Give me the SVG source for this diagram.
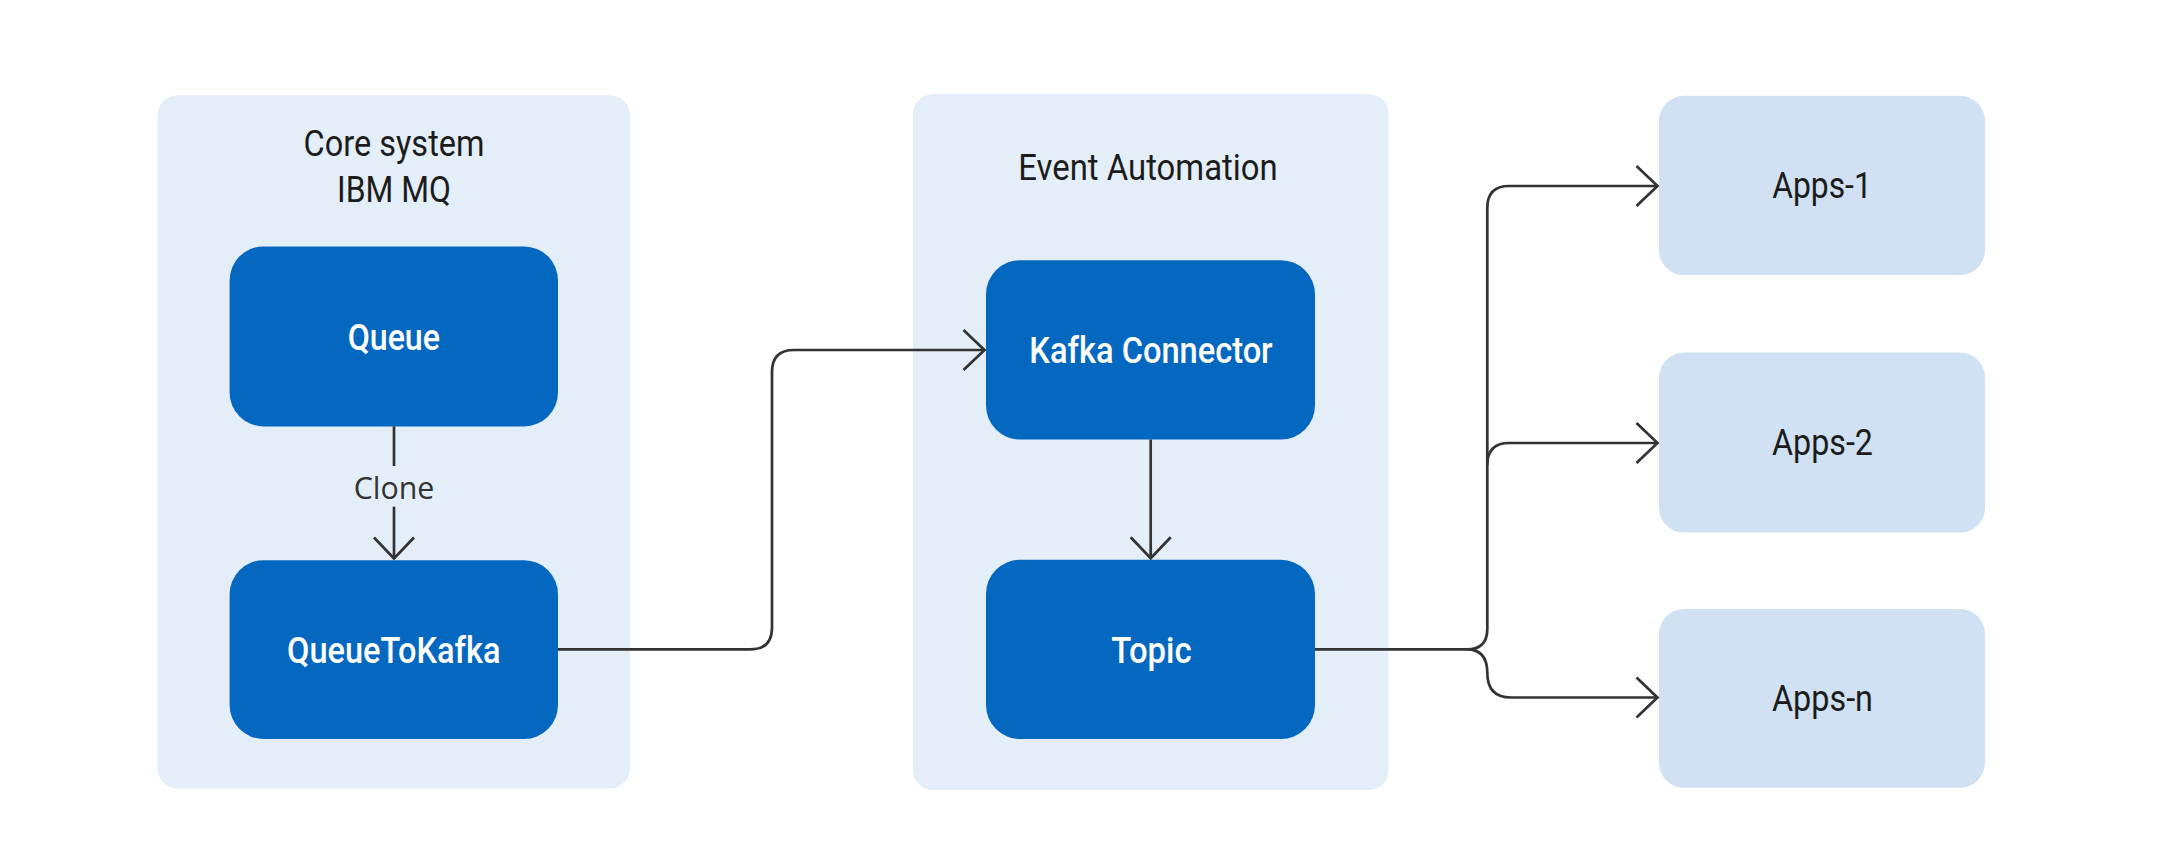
<svg xmlns="http://www.w3.org/2000/svg" width="2163" height="868" viewBox="0 0 2163 868">
<style>
.grp{fill:#E4EEF8}
.node{fill:#0568C0}
.app{fill:#CFE1F2}
.title{font-family:Roboto,"Liberation Sans",sans-serif;font-size:36px;fill:#1c1c1c;text-anchor:middle}
.nlabel{font-family:Roboto,"Liberation Sans",sans-serif;font-size:37px;font-weight:500;fill:#ffffff;text-anchor:middle}
.alabel{font-family:Roboto,"Liberation Sans",sans-serif;font-size:36.5px;fill:#1c1c1c;text-anchor:middle}
.elabel{font-family:"Open Sans","Noto Sans",sans-serif;font-size:31px;fill:#333333;text-anchor:middle}
.edge{fill:none;stroke:#333333;stroke-width:2.7}
</style>
<defs>
<marker id="arr" markerUnits="userSpaceOnUse" markerWidth="30" markerHeight="46" viewBox="-25 -23 29 46" refX="0" refY="0" orient="auto">
<path d="M-21,-20 L0,0 L-21,20" fill="none" stroke="#333333" stroke-width="2.7"/>
</marker>
</defs>
<rect width="2163" height="868" fill="#ffffff"/>
<g id="core-system">
<rect class="grp" x="157.5" y="95.2" width="472.5" height="693.2" rx="20"/>
<text class="title" x="394" y="156" textLength="181" lengthAdjust="spacingAndGlyphs">Core system</text>
<text class="title" x="394" y="201.7" textLength="114" lengthAdjust="spacingAndGlyphs">IBM MQ</text>
</g>
<g id="event-automation">
<rect class="grp" x="913" y="94.1" width="475.6" height="696" rx="20"/>
<text class="title" x="1148" y="180" textLength="259.5" lengthAdjust="spacingAndGlyphs">Event Automation</text>
</g>
<g id="queue">
<rect class="node" x="229.6" y="246.4" width="328.4" height="180" rx="34"/>
<text class="nlabel" x="393.8" y="349.5" textLength="92.3" lengthAdjust="spacingAndGlyphs">Queue</text>
</g>
<g id="queuetokafka">
<rect class="node" x="229.6" y="560.2" width="328.4" height="178.8" rx="34"/>
<text class="nlabel" x="393.8" y="662.5" textLength="213.5" lengthAdjust="spacingAndGlyphs">QueueToKafka</text>
</g>
<g id="kafka-connector">
<rect class="node" x="986" y="260.2" width="329" height="179.3" rx="34"/>
<text class="nlabel" x="1151" y="362.8" textLength="243.3" lengthAdjust="spacingAndGlyphs">Kafka Connector</text>
</g>
<g id="topic">
<rect class="node" x="986" y="559.8" width="329" height="179.2" rx="34"/>
<text class="nlabel" x="1151.4" y="662.5" textLength="80.4" lengthAdjust="spacingAndGlyphs">Topic</text>
</g>
<g id="apps-1">
<rect class="app" x="1659" y="95.8" width="326" height="179.3" rx="25"/>
<text class="alabel" x="1822" y="198" textLength="99.6" lengthAdjust="spacingAndGlyphs">Apps-1</text>
</g>
<g id="apps-2">
<rect class="app" x="1659" y="352.6" width="326" height="180" rx="25"/>
<text class="alabel" x="1822.5" y="455" textLength="101" lengthAdjust="spacingAndGlyphs">Apps-2</text>
</g>
<g id="apps-n">
<rect class="app" x="1659" y="609" width="326" height="178.8" rx="25"/>
<text class="alabel" x="1822.5" y="711.4" textLength="101" lengthAdjust="spacingAndGlyphs">Apps-n</text>
</g>
<g id="connectors">
<path class="edge" d="M394,426.3 V466"/>
<text class="elabel" x="394" y="499.3" textLength="80.7" lengthAdjust="spacingAndGlyphs">Clone</text>
<path class="edge" d="M394,506.7 V558.5" marker-end="url(#arr)"/>
<path class="edge" d="M558,649.4 H750 Q772,649.4 772,627.4 V372 Q772,350 794,350 H984.5" marker-end="url(#arr)"/>
<path class="edge" d="M1150.7,439.5 V558.3" marker-end="url(#arr)"/>
<path class="edge" d="M1315,649.4 H1467 Q1487.3,649.4 1487.3,629 V208 Q1487.3,186 1509,186 H1657.5" marker-end="url(#arr)"/>
<path class="edge" d="M1487.3,465 Q1487.3,443 1509,443 H1657.5" marker-end="url(#arr)"/>
<path class="edge" d="M1467,649.4 Q1487.3,649.4 1487.3,673 Q1487.3,697.5 1511,697.5 H1657.5" marker-end="url(#arr)"/>
</g>
</svg>
